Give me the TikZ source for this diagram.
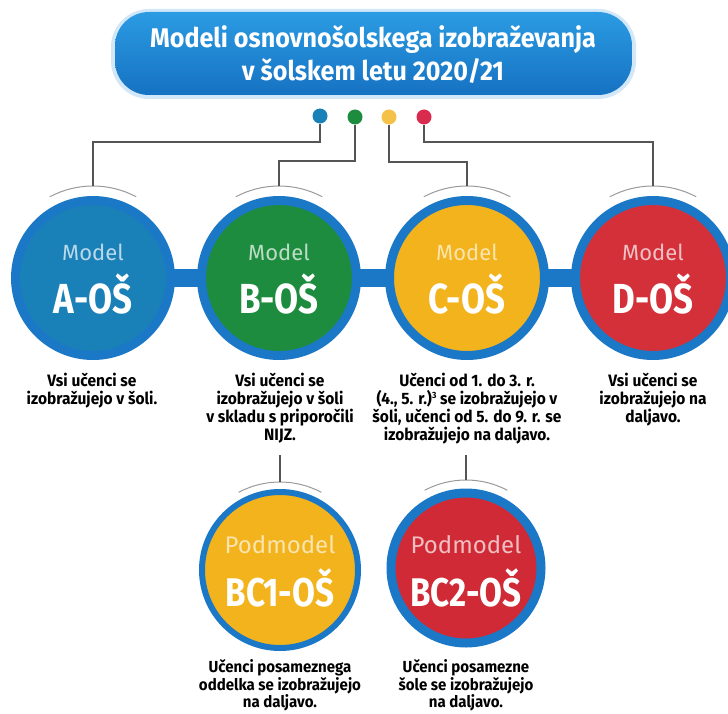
\documentclass[tikz,border=0pt]{standalone}
\usepackage{fontspec}
\setmainfont{Fira Sans}
\newfontfamily\descfont[FakeStretch=0.94]{Fira Sans}
\newfontfamily\titlefont[FakeStretch=0.93]{Fira Sans}
\newfontfamily\bigfont[FakeStretch=0.83]{Fira Sans}
\newcommand\mytightlines{\lineskiplimit=-20pt\relax\lineskip=0pt\relax}
\usetikzlibrary{calc}
\definecolor{ringblue}{HTML}{1B78C6}
\definecolor{titleblue}{HTML}{1C8ADB}
\definecolor{titletop}{HTML}{2B9BE3}
\definecolor{titlebot}{HTML}{1672C2}
\definecolor{Afill}{HTML}{1A80B8}
\definecolor{Bfill}{HTML}{1E8C3E}
\definecolor{Cfill}{HTML}{F2B31C}
\definecolor{Dfill}{HTML}{D4303A}
\definecolor{BCtwofill}{HTML}{CF2A35}
\definecolor{conn}{HTML}{555555}
\definecolor{arcgrey}{HTML}{9A9A9A}
\tikzset{
  ringcirc/.style={circle, draw=ringblue, line width=9pt, minimum size=155pt, inner sep=0pt},
  smallring/.style={circle, draw=ringblue, line width=6pt, minimum size=156pt, inner sep=0pt},
  modeltxt/.style={font=\fontsize{22}{24}\selectfont},
  podtxt/.style={font=\fontsize{24}{26}\selectfont},
  bigtxt/.style={font=\bigfont\bfseries\fontsize{42}{44}\selectfont, text=white},
  bctxt/.style={font=\bigfont\bfseries\fontsize{40}{42}\selectfont, text=white},
  desc/.style={align=center, anchor=north, text=black,
    font=\descfont\bfseries\fontsize{16.5}{18}\selectfont\mytightlines},
  subdesc/.style={desc, font=\descfont\bfseries\fontsize{16}{17.5}\selectfont\mytightlines},
  dot/.style={circle, minimum size=15pt, inner sep=0pt},
  connline/.style={draw=conn, line width=1.4pt},
  toparc/.style={draw=arcgrey, line width=1pt},
}
\begin{document}
\begin{tikzpicture}[x=1pt, y=-1pt]
\useasboundingbox (0,0) rectangle (728,714);
% title
\fill[titleblue!20, rounded corners=38pt] (111,9) rectangle (636,99);
\shade[top color=titletop, bottom color=titlebot, rounded corners=34pt] (115,12) rectangle (632,95);
\node[font=\titlefont\bfseries\fontsize{27}{33}\selectfont, text=white, align=center] (title) at (373,55) {Modeli osnovnošolskega izobraževanja\\v šolskem letu 2020/21};
% dots
\node[dot, fill=Afill] (dA) at (320,116) {};
\node[dot, fill=Bfill] (dB) at (355,117) {};
\node[dot, fill=Cfill!80!white] (dC) at (389,117) {};
\node[dot, fill=Dfill!90!magenta] (dD) at (424,117) {};
% band
\fill[ringblue] (93,269) rectangle (653,287);
% main circles
\node[ringcirc, fill=Afill] (A) at (93,278) {};
\node[ringcirc, fill=Bfill] (B) at (279,278) {};
\node[ringcirc, fill=Cfill] (C) at (467,278) {};
\node[ringcirc, fill=Dfill] (D) at (653,278) {};
\node[modeltxt, text=Afill!30!white] (mA) at (93,252) {Model};
\node[modeltxt, text=Bfill!30!white] (mB) at (279,252) {Model};
\node[modeltxt, text=Cfill!35!white] (mC) at (467,252) {Model};
\node[modeltxt, text=Dfill!30!white] (mD) at (653,252) {Model};
\node[bigtxt] (lA) at (93,294) {A-OŠ};
\node[bigtxt] (lB) at (279,294) {B-OŠ};
\node[bigtxt] (lC) at (467,294) {C-OŠ};
\node[bigtxt] (lD) at (653,294) {D-OŠ};
% arcs above main circles
\foreach \n in {A,B,C,D}{
  \draw[toparc] (\n.center) ++(62:92pt) arc[start angle=62, end angle=118, radius=92pt];
  \coordinate (\n top) at ($(\n.center)+(0,-92)$);
}
% connectors from dots
\draw[connline] (dA) -- ++(0,26) -| (Atop);
\draw[connline] (dB) -- ++(0,44) -| (Btop);
\draw[connline] (dC) -- ++(0,45) -| (Ctop);
\draw[connline] (dD) -- ++(0,25) -| (Dtop);
% descriptions
\node[desc] (tA) at (92,370) {Vsi učenci se\\izobražujejo v šoli.};
\node[desc] (tB) at (280,370) {Vsi učenci se\\izobražujejo v šoli\\v skladu s priporočili\\NIJZ.};
\node[desc] (tC) at (467,370) {Učenci od 1. do 3. r.\\(4., 5. r.){\fontsize{9}{9}\selectfont\raisebox{6pt}{3}} se izobražujejo v\\šoli, učenci od 5. do 9. r. se\\izobražujejo na daljavo.};
\node[desc] (tD) at (653,370) {Vsi učenci se\\izobražujejo na\\daljavo.};
% sub circles
\node[smallring, fill=Cfill] (BC1) at (280,570) {};
\node[ringcirc, minimum size=150pt, fill=BCtwofill] (BC2) at (466,568) {};
\node[podtxt, text=Cfill!35!white] (pBC1) at (280,545) {Podmodel};
\node[podtxt, text=BCtwofill!30!white] (pBC2) at (466,545) {Podmodel};
\node[bctxt] (lBC1) at (280,588) {BC1-OŠ};
\node[bctxt] (lBC2) at (466,588) {BC2-OŠ};
\draw[toparc] (BC1.center) ++(62:88pt) arc[start angle=62, end angle=118, radius=88pt];
\draw[toparc] (BC2.center) ++(62:88pt) arc[start angle=62, end angle=118, radius=88pt];
\coordinate (BC1top) at ($(BC1.center)+(0,-88)$);
\coordinate (BC2top) at ($(BC2.center)+(0,-88)$);
\coordinate (bFree) at (280,455);
\coordinate (cFree) at (466,455);
\draw[connline] (bFree) -- (BC1top);
\draw[connline] (cFree) -- (BC2top);
% sub descriptions
\node[subdesc] (tBC1) at (280,656) {Učenci posameznega\\oddelka se izobražujejo\\na daljavo.};
\node[subdesc] (tBC2) at (466,656) {Učenci posamezne\\šole se izobražujejo\\na daljavo.};
\end{tikzpicture}
\end{document}
